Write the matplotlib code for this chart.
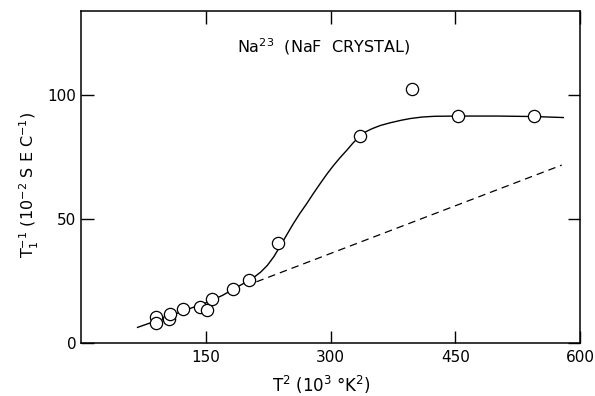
import numpy as np
import matplotlib.pyplot as plt

plt.rcParams['font.family'] = 'DejaVu Sans'
plt.rcParams['font.size'] = 10

# measured points: T^2 (10^3 K^2) vs 1/T1 (10^-2 sec^-1)
t2_data = [90, 90, 106, 107, 123, 143, 152, 157, 182.5, 201.5, 237, 335, 398, 453, 545]
rate_data = [10.4, 7.9, 9.5, 11.6, 13.7, 14.4, 13.3, 17.7, 21.9, 25.3, 40.2, 83.6, 102.4, 91.5, 91.5]

# hand-drawn smooth curve
curve_x = [68, 90, 110, 130, 150, 170, 190, 202, 209, 216, 224, 232, 240, 248, 255, 263, 271.5,
           279.5, 287.5, 295.5, 303.5, 311.5, 319.6, 327, 335, 342, 350, 360, 372, 385,
           396, 410, 425, 453, 500, 545, 580]
curve_y = [6.3, 8.9, 11.3, 13.8, 16.2, 19.2, 23.0, 25.3, 26.8, 28.6, 31.3, 34.9, 39.4, 44.0, 48.0,
           52.2, 56.3, 60.4, 64.3, 68.1, 71.6, 74.8, 77.8, 80.7, 83.4, 85.2, 86.5, 87.8, 88.9,
           89.9, 90.6, 91.2, 91.5, 91.6, 91.6, 91.4, 91.0]

# dashed linear extrapolation
dash_x = [211, 578]
dash_y = [24.7, 71.8]

fig = plt.figure(figsize=(5.95, 3.96), dpi=100)
ax = fig.add_axes([81/595, 1-343/396, (580-81)/595, (343-11)/396])

ax.plot(curve_x, curve_y, 'k-', linewidth=1.0)
ax.plot(dash_x, dash_y, 'k', linestyle=(0, (6, 4)), linewidth=0.9)
ax.plot(t2_data, rate_data, 'o', markersize=8.8, markerfacecolor='white',
        markeredgecolor='black', markeredgewidth=0.9)

ax.set_xlim(0, 600)
ax.set_ylim(0, 134)
ax.set_xticks([150, 300, 450, 600])
ax.set_yticks([0, 50, 100])
ax.tick_params(direction='in', length=9, width=1, top=True, right=True,
               labelsize=11)
ax.tick_params(axis='x', pad=5)
for s in ax.spines.values():
    s.set_linewidth(1.1)

ax.text(291, 119.5, r'Na$^{23}$  (NaF  CRYSTAL)', ha='center', va='center', fontsize=11.5)
ax.set_xlabel(r'T$^2$ (10$^3$ °K$^2$)', fontsize=12)
ax.xaxis.set_label_coords(0.481, -0.125)
ax.xaxis.label.set_va('center')
ax.set_ylabel(r'T$_1^{-1}$ (10$^{-2}$ S E C$^{-1}$)', fontsize=11.5)
ax.yaxis.set_label_coords(-0.104, 0.476)
ax.yaxis.label.set_va('center')

fig.savefig('out.png', dpi=100)
